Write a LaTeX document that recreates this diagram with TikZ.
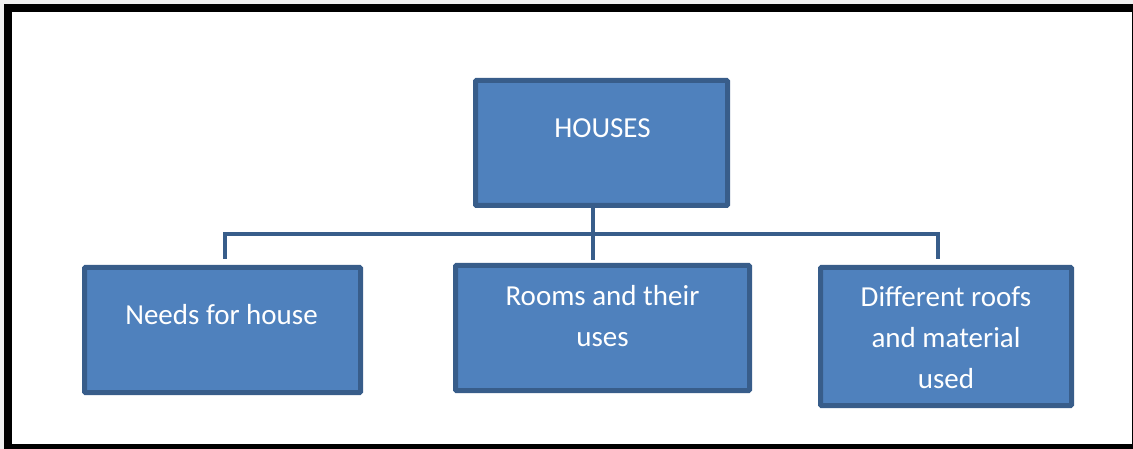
\documentclass[tikz,border=0pt]{standalone}
\usepackage{fontspec}
\setmainfont{Carlito}
\usetikzlibrary{positioning}
\definecolor{boxfill}{HTML}{4F81BD}
\definecolor{boxline}{HTML}{385D8A}

\begin{document}
\begin{tikzpicture}[x=1pt, y=-1pt,
	topicbox/.style={draw=boxline, fill=boxfill, line width=5pt, rounded corners=1pt, inner sep=0pt},
	topictext/.style={text=white, font=\fontsize{29}{41}\selectfont, align=center, inner sep=0pt, anchor=base},
	branch/.style={draw=boxline, line width=4pt}]

	%page and outer frame
	\useasboundingbox (0,0) rectangle (1133,449);
	\clip (0,0) rectangle (1133,449);
	\fill[gray!12] (0,0) rectangle (1133,449);
	\fill[white] (8,8.5) rectangle (1136,448);
	\draw[line width=8pt] (8,8.5) rectangle (1136,448);

	%boxes
	\node[topicbox, minimum width=252pt, minimum height=125pt] (houses) at (601.5,143) {};
	\node[topicbox, minimum width=276pt, minimum height=125pt] (needs) at (222.5,330) {};
	\node[topicbox, minimum width=294pt, minimum height=125pt] (rooms) at (602.5,328) {};
	\node[topicbox, minimum width=251pt, minimum height=138pt] (roofs) at (946,336.5) {};

	% connectors
	\coordinate (bar) at (593,234);
	\draw[branch] ([xshift=2.5pt,yshift=6pt]needs.north) |- (bar) -| ([xshift=-8pt,yshift=6pt]roofs.north);
	\draw[branch] ([xshift=-8.5pt]houses.south) -- ([xshift=-9.5pt,yshift=3pt]rooms.north);

	% Text nodes (base = last line)
	\node[topictext] (housestxt) at (602.5,138) {HOUSES};
	\node[topictext] (needstxt) at (221.5,324) {Needs for house};
	\node[topictext] (roomstxt) at (602.5,346) {Rooms and their\\uses};
	\node[topictext] (roofstxt) at (946,388) {Different roofs\\and material\\used};
\end{tikzpicture}
\end{document}
